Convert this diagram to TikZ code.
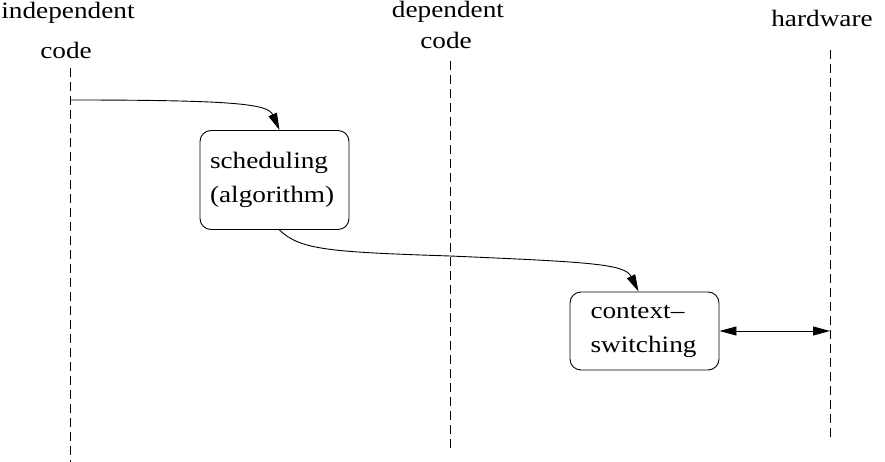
\documentclass[tikz,border=0pt]{standalone}
\usepackage{fontspec}
\setmainfont[FakeStretch=1.16]{Liberation Serif}
\usetikzlibrary{arrows.meta}

\begin{document}
\begin{tikzpicture}[x=1pt,y=-1pt,line width=0.9pt,
       lifeline/.style={dash pattern=on 9pt off 5pt},
       procbox/.style={draw,rounded corners=11pt,align=left,inner sep=0pt},
       tip/.style={-{Triangle[length=17pt,width=9pt]}},
       every node/.style={font=\fontsize{23.5}{34}\selectfont}]
       \useasboundingbox (0,0) rectangle (885,462);
       % titles
       \node[anchor=base] (indep) at (68,19) {independent};
       \node[anchor=base] (indcode) at (66,59) {code};
       \node[anchor=base] (dep) at (448,18) {dependent};
       \node[anchor=base] (depcode) at (446,49) {code};
       \node[anchor=base] (hw) at (822,27) {hardware};
       % life lines
       \draw[lifeline] (70,68) -- (70,462); \draw[lifeline] (450,61) --
       (450,452); \draw[lifeline] (830,50) -- (830,440);
       % boxes
       \node[procbox,minimum width=149pt,minimum height=99pt,text width=129pt]
       (sched) at (274.5,180) {scheduling\\(algorithm)};
       \node[procbox,minimum width=149pt,minimum height=78pt,text width=108pt]
       (ctx) at (644.5,331) {context--\\switching};
       % arrows
       \coordinate (s0) at (70,100); \coordinate (h0) at (830,331);
       \draw[tip] (s0) .. controls (235,100) and (268,104) .. ([xshift=5pt]sched.north);
       \draw[tip] ([xshift=5pt]sched.south) .. controls (300,250) and (330,252)
       .. (450,256) .. controls (590,262) and (625,264) .. ([xshift=-6pt]ctx.north);
       \draw[{Triangle[length=17pt,width=9pt]}-{Triangle[length=17pt,width=9pt]}]
       (ctx.east |- h0) -- (h0);
\end{tikzpicture}
\end{document}
